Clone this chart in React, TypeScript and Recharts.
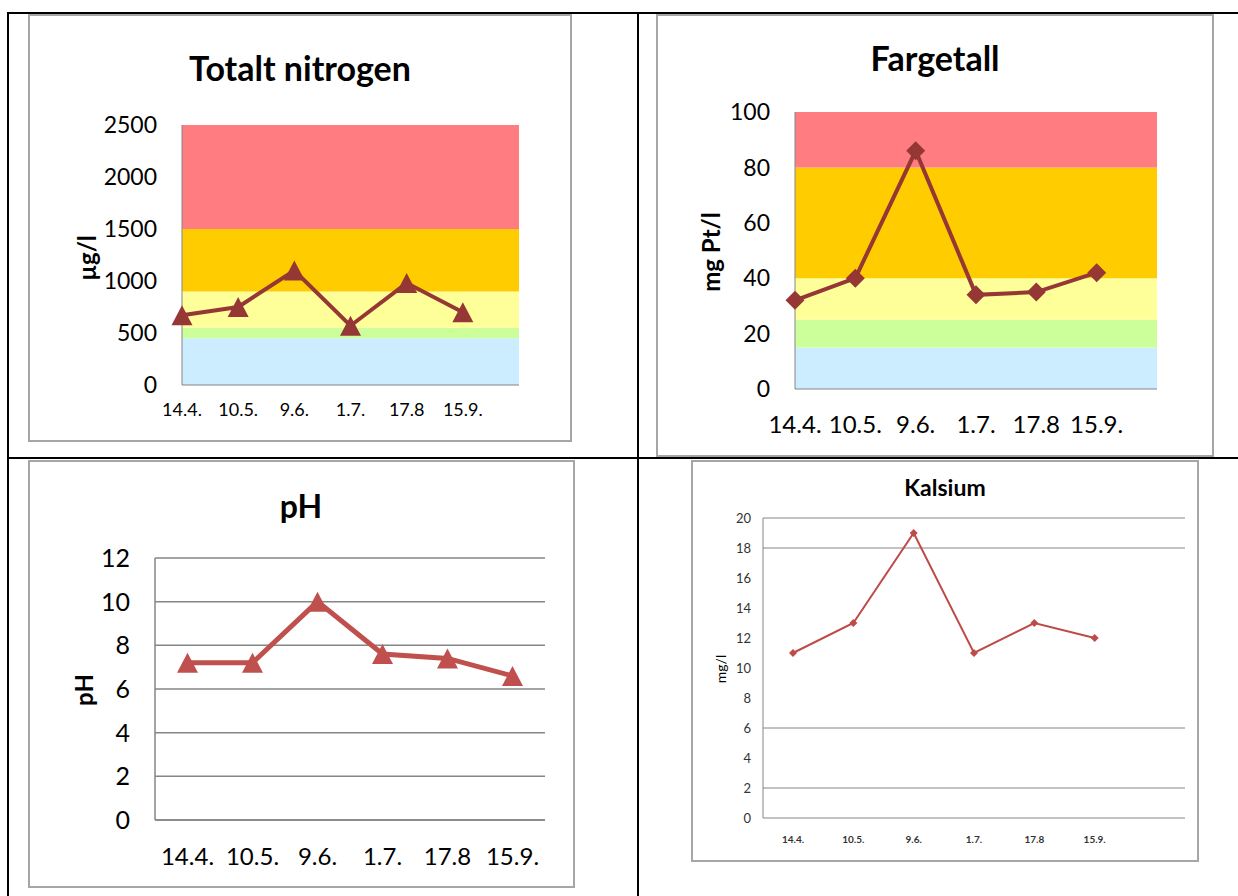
import React from 'react';
import { LineChart, Line, XAxis, YAxis, CartesianGrid, ReferenceArea } from 'recharts';

// Sampling dates (one blank slot at the end on charts that leave room for it)
const dates = ['14.4.', '10.5.', '9.6.', '1.7.', '17.8', '15.9.'];

const nitrogen = [670, 750, 1100, 570, 980, 700];
const fargetall = [32, 40, 86, 34, 35, 42];
const ph = [7.2, 7.2, 10, 7.6, 7.4, 6.6];
const kalsium = [11, 13, 19, 11, 13, 12];

// Y ticks
const nitrogenTicks = [0, 500, 1000, 1500, 2000, 2500];
const fargetallTicks = [0, 20, 40, 60, 80, 100];
const phTicks = [0, 2, 4, 6, 8, 10, 12];
const kalsiumTicks = [0, 2, 4, 6, 8, 10, 12, 14, 16, 18, 20];
const kalsiumGrid = [2, 6, 18, 20];

// Class limits drawn as coloured bands (bottom to top)
const nitrogenLimits = [0, 450, 550, 900, 1500, 2500];
const fargetallLimits = [0, 15, 25, 40, 80, 100];
const bandColors = ['#CCECFF', '#CCFF99', '#FFFF99', '#FFCC00', '#FF7C80'];

const FONT = 'Lato, "Open Sans", sans-serif';

const rows = (values: number[], blank: boolean) => {
  const r: { date: string; value: number | null }[] = dates.map((d, i) => ({ date: d, value: values[i] }));
  if (blank) r.push({ date: '', value: null });
  return r;
};

const triangle = (color: string, w: number, h: number) => (p: any) => {
  const { cx, cy, index } = p;
  if (cx == null || cy == null || p.value == null) return <g key={`t-${index}`} />;
  return (
    <path
      key={`t-${index}`}
      d={`M${cx},${cy - h / 2} L${cx + w / 2},${cy + h / 2} L${cx - w / 2},${cy + h / 2} Z`}
      fill={color}
    />
  );
};

const diamond = (color: string, s: number) => (p: any) => {
  const { cx, cy, index } = p;
  if (cx == null || cy == null || p.value == null) return <g key={`d-${index}`} />;
  return (
    <path
      key={`d-${index}`}
      d={`M${cx},${cy - s / 2} L${cx + s / 2},${cy} L${cx},${cy + s / 2} L${cx - s / 2},${cy} Z`}
      fill={color}
    />
  );
};

const bands = (limits: number[]) =>
  limits.slice(0, -1).map((lo, i) => (
    <ReferenceArea
      key={`b-${i}`}
      y1={lo}
      y2={limits[i + 1]}
      fill={bandColors[i]}
      fillOpacity={1}
      stroke="none"
      ifOverflow="extendDomain"
    />
  ));

const Frame: React.FC<{ left: number; top: number; width: number; height: number; children?: React.ReactNode }> = ({
  left,
  top,
  width,
  height,
  children,
}) => (
  <div
    style={{
      position: 'absolute',
      left,
      top,
      width,
      height,
      border: '2px solid #A6A6A6',
      boxSizing: 'border-box',
      background: '#fff',
    }}
  >
    {children}
  </div>
);

const Title: React.FC<{ x: number; y: number; size: number; text: string }> = ({ x, y, size, text }) => (
  <div
    style={{
      position: 'absolute',
      left: x,
      top: y,
      transform: 'translate(-50%, -50%)',
      fontWeight: 700,
      fontSize: size,
      whiteSpace: 'nowrap',
      color: '#000',
    }}
  >
    {text}
  </div>
);

const VLabel: React.FC<{ x: number; y: number; size: number; text: string; bold?: boolean }> = ({
  x,
  y,
  size,
  text,
  bold = true,
}) => (
  <div
    style={{
      position: 'absolute',
      left: x,
      top: y,
      transform: 'translate(-50%, -50%) rotate(-90deg)',
      fontWeight: bold ? 700 : 400,
      fontSize: size,
      whiteSpace: 'nowrap',
      color: '#000',
    }}
  >
    {text}
  </div>
);

const line = (style: React.CSSProperties) => <div style={{ position: 'absolute', background: '#000', ...style }} />;

export default function App() {
  const axisGray = '#868686';
  return (
    <div
      style={{
        position: 'absolute',
        left: 0,
        top: 0,
        width: 1238,
        height: 896,
        overflow: 'hidden',
        background: '#fff',
        fontFamily: FONT,
      }}
    >
      {/* Totalt nitrogen */}
      <div style={{ position: 'absolute', left: 28, top: 14 }}>
        <Frame left={0} top={0} width={544} height={428} />
        <div style={{ position: 'absolute', left: 0, top: 0 }}>
          <LineChart width={544} height={428} data={rows(nitrogen, true)} margin={{ top: 111, right: 53, bottom: 17, left: 0 }}>
            {bands(nitrogenLimits)}
            <XAxis
              dataKey="date"
              height={40}
              axisLine={{ stroke: axisGray }}
              tickLine={false}
              tickSize={0}
              tickMargin={18}
              interval={0}
              tick={{ fill: '#000', fontSize: 18, fontFamily: FONT }}
            />
            <YAxis
              width={154}
              domain={[0, 2500]}
              ticks={nitrogenTicks}
              axisLine={{ stroke: axisGray }}
              tickLine={false}
              tickSize={0}
              tickMargin={25}
              tick={{ fill: '#000', fontSize: 23, fontFamily: FONT }}
            />
            <Line
              dataKey="value"
              stroke="#953735"
              strokeWidth={4}
              dot={triangle('#953735', 21, 20)}
              activeDot={false}
              isAnimationActive={false}
            />
          </LineChart>
        </div>
        <Title x={272} y={53} size={34} text="Totalt nitrogen" />
        <VLabel x={58} y={244} size={24} text="µg/l" />
      </div>

      {/* Fargetall */}
      <div style={{ position: 'absolute', left: 656, top: 14 }}>
        <Frame left={0} top={0} width={558} height={443} />
        <div style={{ position: 'absolute', left: 0, top: 0 }}>
          <LineChart width={558} height={443} data={rows(fargetall, true)} margin={{ top: 98, right: 57, bottom: 18, left: 0 }}>
            {bands(fargetallLimits)}
            <XAxis
              dataKey="date"
              height={50}
              axisLine={{ stroke: axisGray }}
              tickLine={false}
              tickSize={0}
              tickMargin={27}
              interval={0}
              tick={{ fill: '#000', fontSize: 24, fontFamily: FONT }}
            />
            <YAxis
              width={139}
              domain={[0, 100]}
              ticks={fargetallTicks}
              axisLine={{ stroke: axisGray }}
              tickLine={false}
              tickSize={0}
              tickMargin={25}
              tick={{ fill: '#000', fontSize: 23, fontFamily: FONT }}
            />
            <Line
              dataKey="value"
              stroke="#953735"
              strokeWidth={4}
              dot={diamond('#953735', 19)}
              activeDot={false}
              isAnimationActive={false}
            />
          </LineChart>
        </div>
        <Title x={279} y={43} size={34} text="Fargetall" />
        <VLabel x={54} y={238} size={24} text="mg Pt/l" />
      </div>

      {/* pH */}
      <div style={{ position: 'absolute', left: 28, top: 460 }}>
        <Frame left={0} top={0} width={547} height={428} />
        <div style={{ position: 'absolute', left: 0, top: 0 }}>
          <LineChart width={547} height={428} data={rows(ph, false)} margin={{ top: 98, right: 30, bottom: 18, left: 0 }}>
            <CartesianGrid vertical={false} stroke={axisGray} strokeWidth={1.5} />
            <XAxis
              dataKey="date"
              height={50}
              padding={{ left: 32.5, right: 32.5 }}
              axisLine={{ stroke: axisGray, strokeWidth: 1.5 }}
              tickLine={false}
              tickSize={0}
              tickMargin={28}
              interval={0}
              tick={{ fill: '#000', fontSize: 24, fontFamily: FONT }}
            />
            <YAxis
              width={127}
              domain={[0, 12]}
              ticks={phTicks}
              axisLine={{ stroke: axisGray, strokeWidth: 1.5 }}
              tickLine={false}
              tickSize={0}
              tickMargin={25}
              tick={{ fill: '#000', fontSize: 25, fontFamily: FONT }}
            />
            <Line
              dataKey="value"
              stroke="#C0504D"
              strokeWidth={5}
              dot={triangle('#C0504D', 21, 20)}
              activeDot={false}
              isAnimationActive={false}
            />
          </LineChart>
        </div>
        <Title x={273} y={45} size={32} text="pH" />
        <VLabel x={55} y={230} size={24} text="pH" />
      </div>

      {/* Kalsium */}
      <div style={{ position: 'absolute', left: 691, top: 460 }}>
        <Frame left={0} top={0} width={508} height={402} />
        <div style={{ position: 'absolute', left: 0, top: 0 }}>
          <LineChart width={508} height={402} data={rows(kalsium, true)} margin={{ top: 58, right: 14, bottom: 14, left: 0 }}>
            <CartesianGrid vertical={false} stroke={axisGray} horizontalValues={kalsiumGrid} />
            <XAxis
              dataKey="date"
              height={30}
              padding={{ left: 30, right: 30 }}
              axisLine={{ stroke: axisGray }}
              tickLine={false}
              tickSize={0}
              tickMargin={18}
              interval={0}
              tick={{ fill: '#333', fontSize: 10, fontWeight: 700, fontFamily: FONT }}
            />
            <YAxis
              width={72}
              domain={[0, 20]}
              ticks={kalsiumTicks}
              axisLine={{ stroke: axisGray }}
              tickLine={false}
              tickSize={0}
              tickMargin={12}
              tick={{ fill: '#333', fontSize: 13, fontFamily: FONT }}
            />
            <Line
              dataKey="value"
              stroke="#BE4B48"
              strokeWidth={2}
              dot={diamond('#BE4B48', 8)}
              activeDot={false}
              isAnimationActive={false}
            />
          </LineChart>
        </div>
        <Title x={254} y={27} size={23} text="Kalsium" />
        <VLabel x={29} y={209} size={14} text="mg/l" bold={false} />
      </div>

      {/* table rules */}
      {line({ left: 7, top: 12, width: 1231, height: 2 })}
      {line({ left: 7, top: 457, width: 1231, height: 2 })}
      {line({ left: 7, top: 12, width: 2, height: 884 })}
      {line({ left: 637, top: 12, width: 2, height: 884 })}
    </div>
  );
}
